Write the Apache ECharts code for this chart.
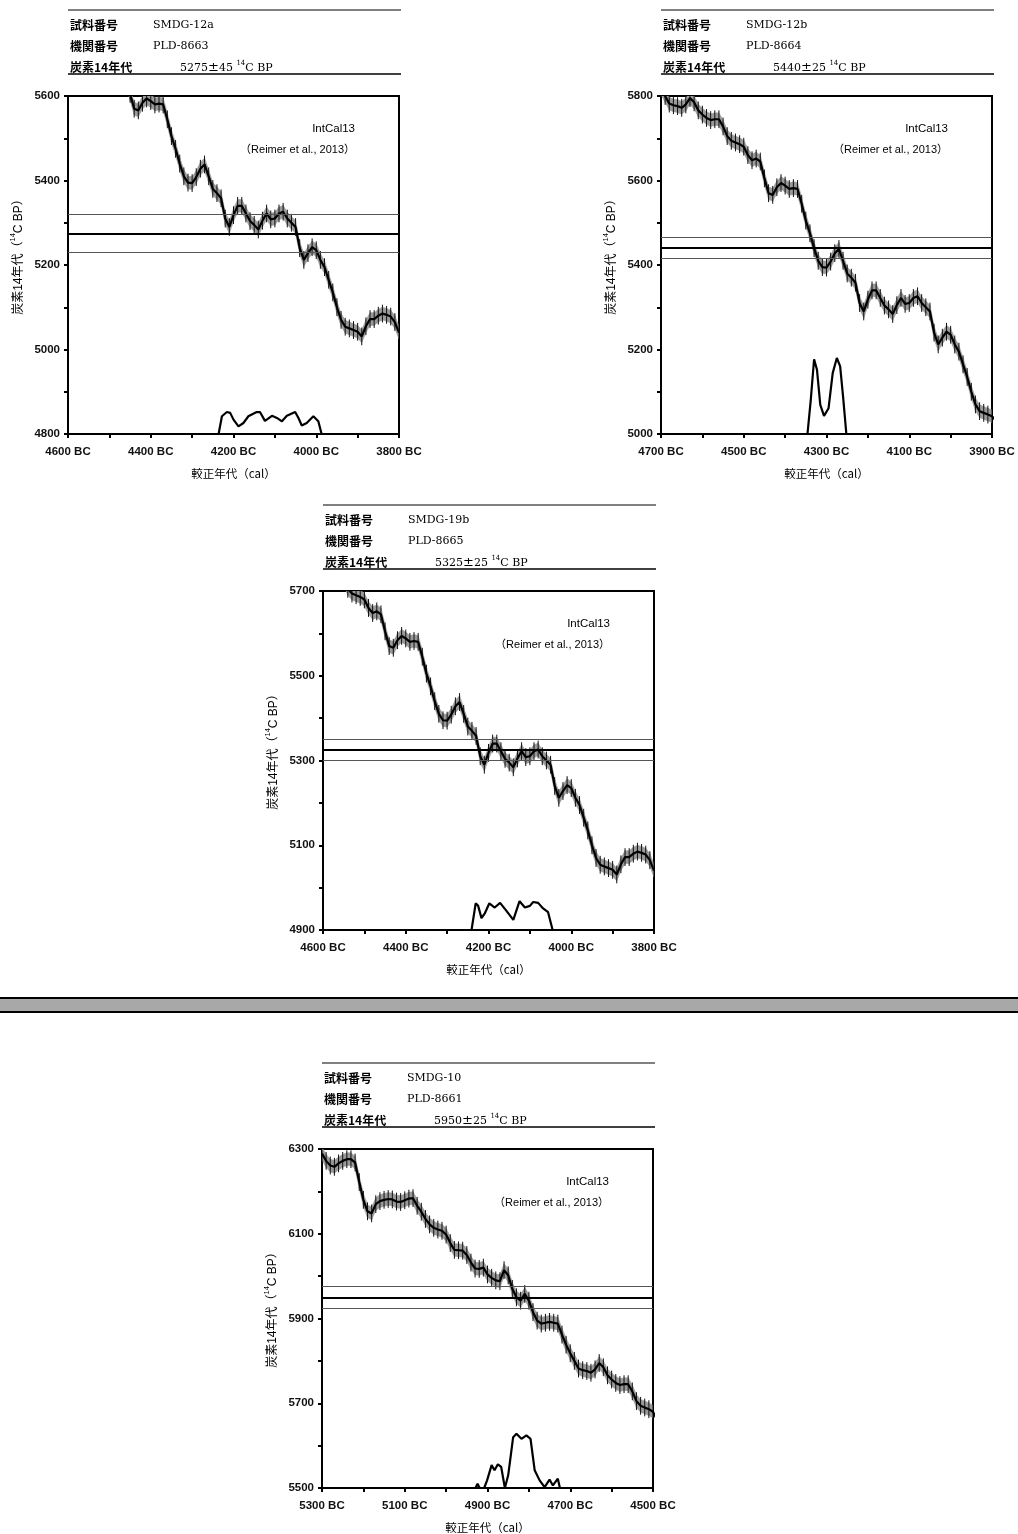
<!DOCTYPE html>
<html>
<head>
<meta charset="utf-8">
<script src="https://cdn.jsdelivr.net/npm/echarts@6/dist/echarts.min.js"></script>
<style>
    html, body { margin: 0; padding: 0; background: #fff; }
    #main { width: 1018px; height: 1534px; }
</style>
</head>
<body>
<div id="main"></div>
<script>
// IntCal13 curve, every 10 years (cal BC -> 14C BP)
const intcalBC = [
    5300, 5290, 5280, 5270, 5260, 5250, 5240, 5230, 5220, 5210,
    5200, 5190, 5180, 5170, 5160, 5150, 5140, 5130, 5120, 5110,
    5100, 5090, 5080, 5070, 5060, 5050, 5040, 5030, 5020, 5010,
    5000, 4990, 4980, 4970, 4960, 4950, 4940, 4930, 4920, 4910,
    4900, 4890, 4880, 4870, 4860, 4850, 4840, 4830, 4820, 4810,
    4800, 4790, 4780, 4770, 4760, 4750, 4740, 4730, 4720, 4710,
    4700, 4690, 4680, 4670, 4660, 4650, 4640, 4630, 4620, 4610,
    4600, 4590, 4580, 4570, 4560, 4550, 4540, 4530, 4520, 4510,
    4500, 4490, 4480, 4470, 4460, 4450, 4440, 4430, 4420, 4410,
    4400, 4390, 4380, 4370, 4360, 4350, 4340, 4330, 4320, 4310,
    4300, 4290, 4280, 4270, 4260, 4250, 4240, 4230, 4220, 4210,
    4200, 4190, 4180, 4170, 4160, 4150, 4140, 4130, 4120, 4110,
    4100, 4090, 4080, 4070, 4060, 4050, 4040, 4030, 4020, 4010,
    4000, 3990, 3980, 3970, 3960, 3950, 3940, 3930, 3920, 3910,
    3900, 3890, 3880, 3870, 3860, 3850, 3840, 3830, 3820, 3810,
    3800
];
const intcalAge = [
    6289, 6272, 6261, 6258, 6266, 6272, 6276, 6276, 6268, 6222,
    6180, 6153, 6148, 6170, 6177, 6180, 6182, 6181, 6176, 6175,
    6179, 6183, 6184, 6166, 6152, 6135, 6122, 6114, 6110, 6107,
    6098, 6078, 6062, 6061, 6060, 6050, 6032, 6018, 6017, 6020,
    6004, 5996, 5990, 5988, 6014, 6002, 5970, 5950, 5942, 5958,
    5942, 5915, 5895, 5888, 5890, 5892, 5890, 5888, 5862, 5838,
    5818, 5800, 5782, 5778, 5776, 5772, 5780, 5795, 5785, 5766,
    5756, 5748, 5743, 5745, 5745, 5728, 5705, 5694, 5690, 5686,
    5680, 5660, 5648, 5652, 5645, 5605, 5570, 5566, 5584, 5594,
    5588, 5580, 5582, 5580, 5545, 5505, 5475, 5440, 5410, 5395,
    5394, 5408, 5428, 5438, 5410, 5380, 5370, 5358, 5310, 5290,
    5318, 5340, 5340, 5322, 5304, 5295, 5284, 5305, 5322, 5308,
    5310, 5322, 5326, 5310, 5300, 5290, 5240, 5212, 5228, 5242,
    5235, 5212, 5195, 5165, 5135, 5100, 5070, 5054, 5050, 5046,
    5042, 5031, 5055, 5072, 5072, 5080, 5085, 5082, 5078, 5065,
    5040
];
const bandHalf = 15;   // grey band half width (14C yr)
const barHalf = 21;    // black error tick half length (14C yr)

// samples
const sampleIds = ['SMDG-12a', 'SMDG-12b', 'SMDG-19b', 'SMDG-10'];
const labCodes = ['PLD-8663', 'PLD-8664', 'PLD-8665', 'PLD-8661'];
const c14Ages = [5275, 5440, 5325, 5950];
const c14Errors = [45, 25, 25, 25];

// axis ranges
const calMinBC = [3800, 3900, 3800, 4500];
const calMaxBC = [4600, 4700, 4600, 5300];
const ageMin = [4800, 5000, 4900, 5500];
const ageMax = [5600, 5800, 5700, 6300];

// calibrated probability curves (height above plot floor, 14C yr units)
const prob12aBC = [4236, 4228, 4216, 4208, 4200, 4188, 4176, 4164, 4144, 4136, 4124, 4107, 4095, 4083, 4071, 4051, 4043, 4035, 4023, 4007, 3995, 3987];
const prob12aH = [0, 42, 52, 50, 34, 18, 26, 42, 52, 52, 31, 43, 38, 30, 43, 52, 38, 20, 26, 42, 30, 0];
const prob12bBC = [4346, 4338, 4330, 4323, 4315, 4306, 4295, 4285, 4275, 4267, 4260, 4252];
const prob12bH = [0, 81, 177, 152, 69, 43, 61, 144, 180, 160, 89, 0];
const prob19bBC = [4241, 4231, 4225, 4217, 4209, 4198, 4185, 4172, 4158, 4140, 4125, 4112, 4100, 4092, 4080, 4068, 4056, 4045];
const prob19bH = [0, 63, 57, 28, 39, 63, 53, 64, 47, 24, 68, 53, 57, 66, 64, 51, 42, 0];
const prob10BC = [4929, 4924, 4919, 4908, 4901, 4890, 4883, 4875, 4867, 4858, 4850, 4838, 4830, 4818, 4806, 4796, 4786, 4774, 4762, 4750, 4742, 4730, 4725];
const prob10H = [0, 10, 0, 0, 18, 54, 42, 56, 50, 0, 30, 120, 128, 116, 124, 116, 42, 18, 2, 20, 6, 22, 0];

const probBC = [prob12aBC, prob12bBC, prob19bBC, prob10BC];
const probH = [prob12aH, prob12bH, prob19bH, prob10H];

// panel boxes (px)
const panels = [
    {left: 68, top: 96, width: 331, height: 338},
    {left: 661, top: 96, width: 331, height: 338},
    {left: 323, top: 591, width: 331, height: 339},
    {left: 322, top: 1149, width: 331, height: 339}
];

const sansFont = '"Liberation Sans", Arial, "Noto Sans CJK JP", sans-serif';
const cjkFont = '"Noto Sans CJK JP", sans-serif';
const serifFont = '"DejaVu Serif", "Liberation Serif", serif';

function renderCurveBand(params, api) {
    let x0 = api.value(0), v0 = api.value(1), x1 = api.value(2), v1 = api.value(3);
    let a = api.coord([x0, v0 + bandHalf]);
    let b = api.coord([x1, v1 + bandHalf]);
    let c = api.coord([x1, v1 - bandHalf]);
    let d = api.coord([x0, v0 - bandHalf]);
    let t = api.coord([x0, v0 + barHalf]);
    let u = api.coord([x0, v0 - barHalf]);
    return {
        type: 'group',
        children: [
            {type: 'polygon', shape: {points: [a, b, c, d]}, style: {fill: '#9a9a9a', stroke: '#9a9a9a', lineWidth: 0.6}},
            {type: 'line', shape: {x1: t[0], y1: t[1], x2: u[0], y2: u[1]}, style: {stroke: '#111', lineWidth: 1}}
        ]
    };
}

let bandData = [];
let curveData = [];
for (let i = 0; i < intcalBC.length; i++) {
    let j = Math.min(i + 1, intcalBC.length - 1);
    bandData.push([intcalBC[i], intcalAge[i], intcalBC[j], intcalAge[j]]);
    curveData.push([intcalBC[i], intcalAge[i]]);
}

let grids = [], xAxes = [], yAxes = [], series = [], graphics = [];

function txt(x, y, text, font, extra) {
    return {
        type: 'text', x: x, y: y, silent: true,
        style: Object.assign({
            text: text, fill: '#000', font: font,
            align: 'left', verticalAlign: 'middle',
            textAlign: 'left', textVerticalAlign: 'middle'
        }, extra || {})
    };
}

for (let i = 0; i < panels.length; i++) {
    let p = panels[i];
    grids.push({
        left: p.left, top: p.top, width: p.width, height: p.height,
        show: true, borderColor: '#000', borderWidth: 2, backgroundColor: 'transparent'
    });
    xAxes.push({
        type: 'value', gridIndex: i, inverse: true,
        min: calMinBC[i], max: calMaxBC[i], interval: 100,
        axisLine: {show: true, onZero: false, lineStyle: {color: '#000', width: 2}},
        axisTick: {show: true, length: 4, lineStyle: {color: '#000', width: 2}},
        axisLabel: {
            margin: 12, fontSize: 11.5, fontWeight: 'bold', color: '#111', fontFamily: sansFont,
            formatter: function (v) { return (v - calMinBC[i]) % 200 === 0 ? v + ' BC' : ''; }
        },
        splitLine: {show: false}
    });
    yAxes.push({
        type: 'value', gridIndex: i,
        min: ageMin[i], max: ageMax[i], interval: 100,
        axisLine: {show: true, onZero: false, lineStyle: {color: '#000', width: 2}},
        axisTick: {show: true, length: 4, lineStyle: {color: '#000', width: 2}},
        axisLabel: {
            margin: 8, fontSize: 11.5, fontWeight: 'bold', color: '#111', fontFamily: sansFont,
            formatter: function (v) { return (v - ageMin[i]) % 200 === 0 ? String(v) : ''; }
        },
        splitLine: {show: false}
    });

    series.push({
        type: 'custom', xAxisIndex: i, yAxisIndex: i, clip: true, silent: true,
        renderItem: renderCurveBand, encode: {x: 0, y: 1}, data: bandData, z: 2
    });
    series.push({
        type: 'line', xAxisIndex: i, yAxisIndex: i, clip: true, silent: true,
        showSymbol: false, symbol: 'none', data: curveData, z: 3,
        lineStyle: {color: '#000', width: 2.2},
        markLine: {
            silent: true, symbol: ['none', 'none'], label: {show: false},
            data: [
                {yAxis: c14Ages[i] + c14Errors[i], lineStyle: {color: '#555', width: 1.2, type: 'solid'}},
                {yAxis: c14Ages[i], lineStyle: {color: '#000', width: 2.2, type: 'solid'}},
                {yAxis: c14Ages[i] - c14Errors[i], lineStyle: {color: '#555', width: 1.2, type: 'solid'}}
            ]
        }
    });
    let pd = [];
    for (let k = 0; k < probBC[i].length; k++) {
        pd.push([probBC[i][k], ageMin[i] + probH[i][k]]);
    }
    series.push({
        type: 'line', xAxisIndex: i, yAxisIndex: i, clip: true, silent: true,
        showSymbol: false, symbol: 'none', data: pd, z: 4,
        lineStyle: {color: '#000', width: 2.2}
    });

    // header block
    let L = p.left, T = p.top, R = p.left + p.width + 2;
    graphics.push({type: 'line', silent: true, shape: {x1: L, y1: T - 86, x2: R, y2: T - 86}, style: {stroke: '#000', lineWidth: 1}});
    graphics.push({type: 'line', silent: true, shape: {x1: L, y1: T - 22, x2: R, y2: T - 22}, style: {stroke: '#000', lineWidth: 1.5}});
    graphics.push(txt(L + 2, T - 71, '試料番号', 'bold 12px ' + cjkFont));
    graphics.push(txt(L + 2, T - 50, '機関番号', 'bold 12px ' + cjkFont));
    graphics.push(txt(L + 2, T - 29, '炭素14年代', 'bold 12px ' + cjkFont));
    graphics.push(txt(L + 85, T - 71, sampleIds[i], '11px ' + serifFont));
    graphics.push(txt(L + 85, T - 50, labCodes[i], '11px ' + serifFont));
    graphics.push(txt(L + 112, T - 29, '{a|' + c14Ages[i] + '}{pm|±}{a|' + c14Errors[i] + ' }{s|14}{a|C BP}', '11px ' + serifFont, {
        rich: {
            a: {fontFamily: serifFont, fontSize: 11, lineHeight: 14, verticalAlign: 'bottom'},
            pm: {fontFamily: serifFont, fontSize: 13, lineHeight: 14, verticalAlign: 'bottom'},
            s: {fontFamily: serifFont, fontSize: 7, lineHeight: 14, verticalAlign: 'top'}
        }
    }));

    // IntCal13 note
    graphics.push(txt(L + p.width - 44, T + 33, 'IntCal13', '11.5px ' + sansFont, {align: 'right', textAlign: 'right'}));
    graphics.push(txt(L + p.width - 44, T + 54, '（Reimer et al., 2013）', '11px ' + sansFont, {align: 'right', textAlign: 'right'}));

    // axis names
    graphics.push(txt(L + p.width / 2, T + p.height + 40, '較正年代（cal）', '11.5px ' + cjkFont, {align: 'center', textAlign: 'center'}));
    let yName = txt(L - 51, T + 158, '{a|炭素14年代（}{s|14}{a|C BP）}', '12px ' + cjkFont, {
        align: 'center', textAlign: 'center',
        rich: {
            a: {fontFamily: sansFont, fontSize: 12, lineHeight: 15, verticalAlign: 'bottom'},
            s: {fontFamily: sansFont, fontSize: 7.5, lineHeight: 15, verticalAlign: 'top'}
        }
    });
    yName.rotation = Math.PI / 2;
    graphics.push(yName);
}

// separator band between the two groups of charts
graphics.push({type: 'rect', silent: true, shape: {x: 0, y: 997, width: 1018, height: 2}, style: {fill: '#000'}});
graphics.push({type: 'rect', silent: true, shape: {x: 0, y: 999, width: 1018, height: 12}, style: {fill: '#a8a8a8'}});
graphics.push({type: 'rect', silent: true, shape: {x: 0, y: 1011, width: 1018, height: 2}, style: {fill: '#000'}});

let myChart = echarts.init(document.getElementById('main'));
myChart.setOption({
    animation: false,
    backgroundColor: '#fff',
    grid: grids,
    xAxis: xAxes,
    yAxis: yAxes,
    series: series,
    graphic: {elements: graphics}
});
</script>
</body>
</html>
